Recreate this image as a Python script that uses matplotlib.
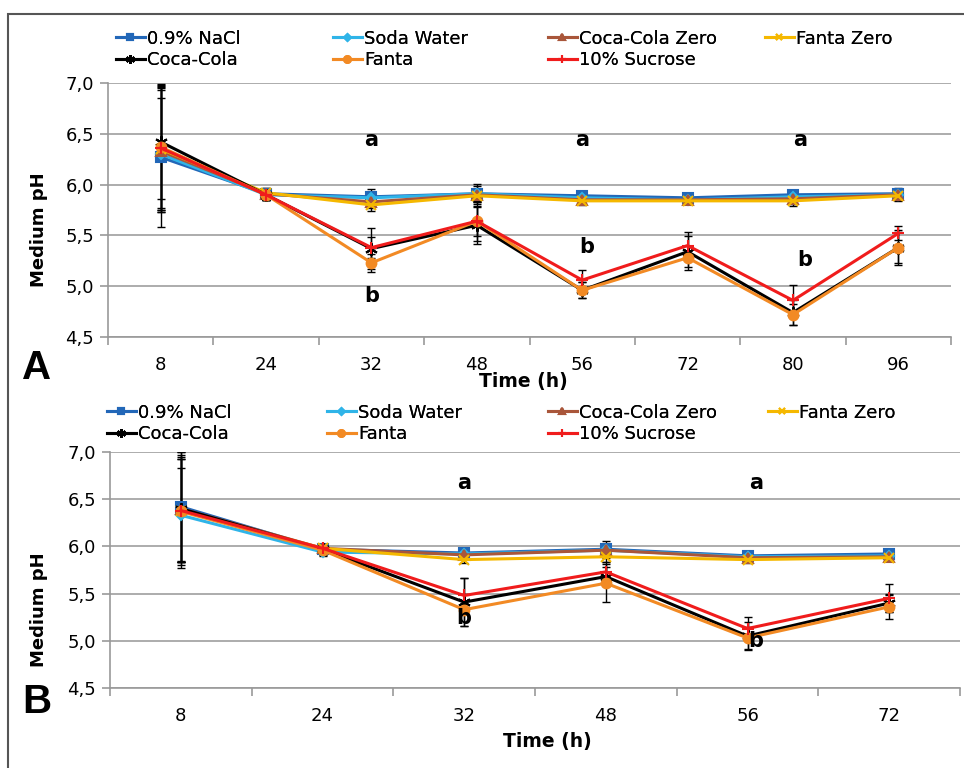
import numpy as np
import matplotlib
matplotlib.use("Agg")
import matplotlib.pyplot as plt
from matplotlib.ticker import FuncFormatter, FixedLocator
from matplotlib.patches import Rectangle

# ---- data ----
series = ["0.9% NaCl", "Soda Water", "Coca-Cola Zero", "Fanta Zero",
          "Coca-Cola", "Fanta", "10% Sucrose"]
colors = ["#2267b8", "#2fb4e8", "#a9563a", "#f5b800", "#000000", "#f28a24", "#f01c1c"]
markers = ["s", "D", "^", "x", (6, 2, 0), "o", "+"]
msizes = [7, 5, 7, 7, 9, 7, 9]

times_a = ["8", "24", "32", "48", "56", "72", "80", "96"]
ph_a = [
    [6.27, 5.91, 5.88, 5.91, 5.89, 5.87, 5.90, 5.91],
    [6.30, 5.90, 5.87, 5.91, 5.87, 5.85, 5.88, 5.90],
    [6.33, 5.91, 5.83, 5.90, 5.85, 5.85, 5.86, 5.90],
    [6.35, 5.92, 5.80, 5.89, 5.84, 5.84, 5.84, 5.89],
    [6.42, 5.90, 5.37, 5.60, 4.96, 5.34, 4.74, 5.38],
    [6.37, 5.90, 5.23, 5.64, 4.96, 5.28, 4.72, 5.38],
    [6.36, 5.90, 5.38, 5.64, 5.06, 5.40, 4.86, 5.52],
]
err_a = [
    [0.69, 0.06, 0.08, 0.10, 0.05, 0.03, 0.05, 0.06],
    [0.55, 0.05, 0.06, 0.08, 0.04, 0.03, 0.04, 0.05],
    [0.60, 0.05, 0.06, 0.06, 0.04, 0.03, 0.05, 0.05],
    [0.60, 0.05, 0.06, 0.06, 0.04, 0.03, 0.05, 0.05],
    [0.56, 0.05, 0.20, 0.18, 0.08, 0.15, 0.12, 0.17],
    [0.60, 0.05, 0.09, 0.20, 0.08, 0.12, 0.10, 0.15],
    [0.63, 0.05, 0.10, 0.15, 0.10, 0.13, 0.15, 0.07],
]

times_b = ["8", "24", "32", "48", "56", "72"]
ph_b = [
    [6.42, 5.97, 5.93, 5.97, 5.90, 5.92],
    [6.33, 5.94, 5.92, 5.96, 5.89, 5.90],
    [6.40, 5.98, 5.91, 5.96, 5.88, 5.89],
    [6.38, 5.98, 5.86, 5.89, 5.86, 5.88],
    [6.40, 5.97, 5.41, 5.68, 5.05, 5.40],
    [6.37, 5.96, 5.33, 5.61, 5.03, 5.36],
    [6.38, 5.98, 5.48, 5.73, 5.13, 5.45],
]
err_b = [
    [0.58, 0.05, 0.05, 0.09, 0.04, 0.03],
    [0.50, 0.04, 0.04, 0.06, 0.04, 0.03],
    [0.55, 0.04, 0.04, 0.06, 0.04, 0.03],
    [0.55, 0.04, 0.04, 0.05, 0.04, 0.03],
    [0.60, 0.05, 0.25, 0.10, 0.15, 0.10],
    [0.60, 0.05, 0.17, 0.20, 0.12, 0.13],
    [0.55, 0.05, 0.18, 0.10, 0.12, 0.15],
]

# significance letters: (x index, y, text)
letters_a = [(2, 6.44, "a"), (4, 6.44, "a"), (6.07, 6.44, "a"),
             (2, 4.90, "b"), (4.04, 5.39, "b"), (6.11, 5.26, "b")]
letters_b = [(2, 6.67, "a"), (4.06, 6.67, "a"),
             (2, 5.24, "b"), (4.06, 5.00, "b")]

W, H = 964, 768
fig = plt.figure(figsize=(W / 100, H / 100), dpi=100)
fig.patches.append(Rectangle((8 / W, -0.1), 1.2, 1 - 14 / H + 0.1,
                             transform=fig.transFigure, fill=False,
                             edgecolor="#555555", lw=1.5))


def comma(v, pos):
    return f"{v:.1f}".replace(".", ",")


def panel(box, times, data, errs, letters, tag, tag_xy, leg_cols, leg_top,
          xlabel_xy, ylabel_ax):
    l, t, r, b = box
    ax = fig.add_axes([l / W, 1 - b / H, (r - l) / W, (b - t) / H])
    x = np.arange(len(times))
    handles = []
    for name, c, m, ms, y, e in zip(series, colors, markers, msizes, data, errs):
        ax.errorbar(x, y, yerr=e, fmt="none", ecolor="black", elinewidth=1,
                    capsize=3, capthick=1, zorder=2)
        h, = ax.plot(x, y, color=c, marker=m, markersize=ms, lw=2.2, mew=1.5,
                     label=name, zorder=3)
        handles.append(h)
    ax.set_xlim(-0.5, len(times) - 0.5)
    ax.set_ylim(4.5, 7.0)
    ax.set_yticks(np.arange(4.5, 7.01, 0.5))
    ax.yaxis.set_major_formatter(FuncFormatter(comma))
    ax.set_xticks(x)
    ax.set_xticklabels(times)
    ax.xaxis.set_minor_locator(FixedLocator(np.arange(-0.5, len(times), 1.0)))
    ax.tick_params(axis="x", which="major", length=0, pad=14, labelsize=13)
    ax.tick_params(axis="x", which="minor", length=6, color="#999999", width=1.2)
    ax.tick_params(axis="y", length=6, color="#999999", width=1.2, labelsize=13, pad=4)
    ax.grid(axis="y", color="#a6a6a6", lw=1.3)
    ax.set_axisbelow(True)
    for s in ["top", "right"]:
        ax.spines[s].set_visible(False)
    for s in ["left", "bottom"]:
        ax.spines[s].set_color("#999999")
        ax.spines[s].set_linewidth(1.2)
    for lx, ly, txt in letters:
        ax.text(lx, ly, txt, ha="center", va="center", fontsize=15, fontweight="bold")

    ax.set_ylabel("Medium pH", fontsize=13, fontweight="bold")
    ax.yaxis.set_label_coords((48 - l) / (r - l), (b - ylabel_ax) / (b - t))
    fig.text(xlabel_xy[0] / W, 1 - xlabel_xy[1] / H, "Time (h)", ha="center",
             va="center", fontsize=13.5, fontweight="bold")
    fig.text(tag_xy[0] / W, 1 - tag_xy[1] / H, tag, ha="center", va="center",
             fontsize=29, fontweight="bold", family="Liberation Sans")

    # one legend per column so the columns sit at fixed places like in Excel
    rows = [[0, 4], [1, 5], [2, 6], [3]]
    for cx, idx in zip(leg_cols, rows):
        leg = fig.legend([handles[i] for i in idx], [series[i] for i in idx],
                         loc="upper left", bbox_to_anchor=(cx / W, 1 - leg_top / H),
                         frameon=False, fontsize=13, handlelength=1.6,
                         handletextpad=0.12, labelspacing=0.22, markerscale=0.7,
                         borderaxespad=0, borderpad=0)
        fig.add_artist(leg)
    return ax


panel((108, 83, 951, 337), times_a, ph_a, err_a, letters_a, "A", (37, 368),
      [116, 333, 548, 765], 29.5, (523, 382), 230)
panel((110, 452, 960, 688), times_b, ph_b, err_b, letters_b, "B", (37, 702),
      [107, 327, 548, 768], 403.5, (547, 742), 610)

fig.savefig("out.png", dpi=100)
